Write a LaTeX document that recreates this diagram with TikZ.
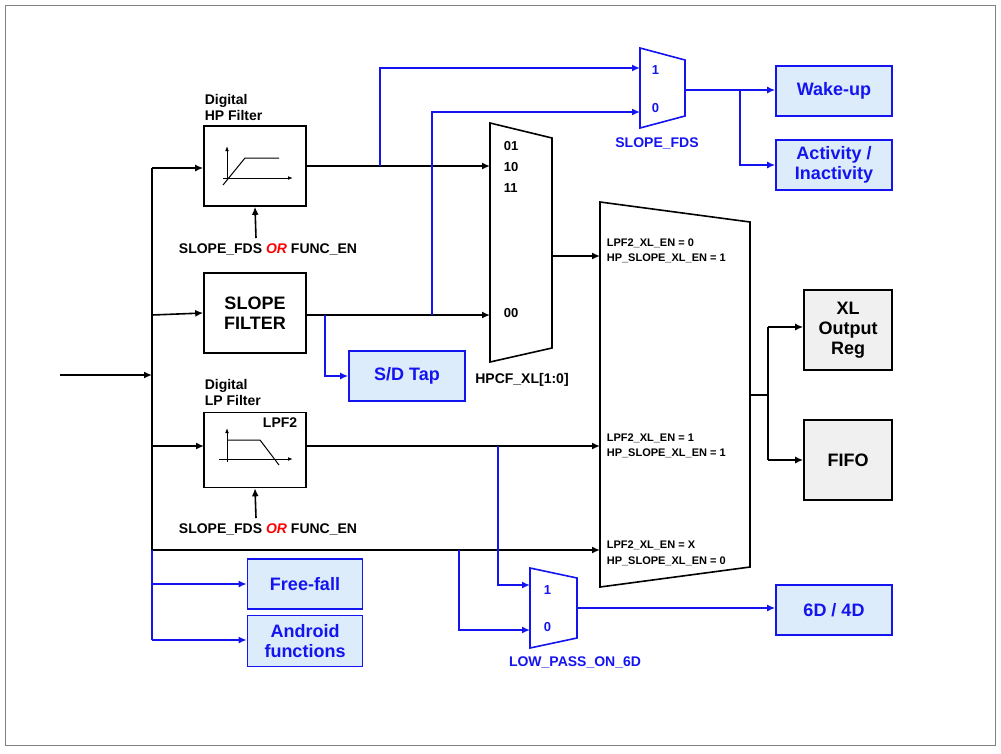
\documentclass[tikz,border=0pt]{standalone}
\usepackage{fontspec}
\setmainfont{Liberation Sans}
\usetikzlibrary{arrows.meta}
\definecolor{bl}{RGB}{20,20,240}
\definecolor{lb}{RGB}{220,236,250}
\definecolor{gr}{RGB}{240,240,240}
\begin{document}
\begin{tikzpicture}[x=1pt,y=-1pt,line width=1.6pt,
  ar/.style={-{Latex[length=8pt,width=7pt]}},
  blk/.style={draw,line width=1.6pt},
  bbox/.style={draw=bl,fill=lb,line width=1.6pt,text=bl,font=\bfseries\fontsize{18}{20}\selectfont,align=center,inner sep=0pt},
  gbox/.style={draw,fill=gr,line width=1.6pt,font=\bfseries\fontsize{18}{20}\selectfont,align=center,inner sep=0pt},
  lbl/.style={font=\bfseries\fontsize{14}{16}\selectfont,inner sep=0pt,align=left},
  sm/.style={font=\bfseries\fontsize{11}{12}\selectfont,inner sep=0pt,anchor=west},
  mx/.style={font=\bfseries\fontsize{13}{14}\selectfont,inner sep=0pt,anchor=west}]
\useasboundingbox (0,0) rectangle (1001,753);
\draw[line width=0.6pt,gray] (5,5) rectangle (995,745);
% HP filter
\node[blk,minimum width=102pt,minimum height=80pt] (hp) at (255,166) {};
\node[lbl,anchor=south west] (hpl) at (204,121) {Digital\\HP Filter};
\draw[line width=1pt,-{Latex[length=5pt]}] (227,180) -- (227,146);
\draw[line width=1pt,-{Latex[length=5pt]}] (223,178) -- (293,178);
\draw[line width=1pt] (223,185) -- (245,158) -- (279,158);
\node[lbl] (c1) at (268,249) {SLOPE\_FDS \textcolor{red}{\itshape OR} FUNC\_EN};
\draw[ar] (256,238) -- (hp.south);
% slope filter
\node[blk,minimum width=102pt,minimum height=80pt,font=\bfseries\fontsize{18}{20}\selectfont,align=center] (sf) at (255,313) {SLOPE\\FILTER};
% LP filter
\node[blk,minimum width=102pt,minimum height=75pt] (lp) at (255,450) {};
\node[lbl,anchor=south west] (lpl) at (204,406) {Digital\\LP Filter};
\node[lbl,anchor=north east] (lpf) at (298,417) {LPF2};
\draw[line width=1pt,-{Latex[length=5pt]}] (227,462) -- (227,428);
\draw[line width=1pt,-{Latex[length=5pt]}] (219,459) -- (293,459);
\draw[line width=1pt] (227,440) -- (260,440) -- (279,465);
\node[lbl] (c2) at (268,529) {SLOPE\_FDS \textcolor{red}{\itshape OR} FUNC\_EN};
\draw[ar] (256,518) -- (lp.south);
% input and bus
\coordinate (in) at (60,375);
\coordinate (b1) at (152,168);
\coordinate (b2) at (152,550);
\draw[ar] (in) -- (152,375);
\draw (b1) -- (b2);
\draw[ar] (b1) -- (hp.west|-b1);
\draw[ar] (152,315) -- (sf.west);
\draw[ar] (152,446) -- (204,446);
% HPCF mux
\draw[blk] (490,123) -- (552,138) -- (552,348) -- (490,362) -- cycle;
\coordinate (mh) at (521,242);
\node[mx] at (503,146) {01};
\node[mx] at (503,167) {10};
\node[mx] at (503,188) {11};
\node[mx] at (503,313) {00};
\node[lbl] (hpcf) at (522,380) {HPCF\_XL[1:0]};
\draw[ar] (306,166) -- (490,166);
\draw[ar] (306,315) -- (490,315);
% big block
\draw[blk] (600,202) -- (750,222) -- (750,567) -- (600,587) -- cycle;
\node[sm] at (606,243) {LPF2\_XL\_EN = 0};
\node[sm] at (606,258) {HP\_SLOPE\_XL\_EN = 1};
\node[sm] at (606,438) {LPF2\_XL\_EN = 1};
\node[sm] at (606,453) {HP\_SLOPE\_XL\_EN = 1};
\node[sm] at (606,545) {LPF2\_XL\_EN = X};
\node[sm] at (606,561) {HP\_SLOPE\_XL\_EN = 0};
\draw[ar] (552,256) -- (600,256);
\draw[ar] (306,446) -- (600,446);
\draw[ar] (b2) -- (600,550);
% outputs
\node[gbox,minimum width=88pt,minimum height=80pt] (xl) at (848,330) {XL\\Output\\Reg};
\node[gbox,minimum width=88pt,minimum height=80pt] (fifo) at (848,460) {FIFO};
\draw (750,395) -- (768,395);
\draw (768,327) -- (768,460);
\draw[ar] (768,327) -- (xl.west|-0,327);
\draw[ar] (768,460) -- (fifo.west);
% top mux
\draw[blk,draw=bl] (640,48) -- (685,60) -- (685,116) -- (640,128) -- cycle;
\node[mx,text=bl] at (651,70) {1};
\node[mx,text=bl] at (651,108) {0};
\node[lbl,text=bl] (sfds) at (657,143) {SLOPE\_FDS};
\begin{scope}[draw=bl,color=bl]
\draw[ar] (380,166) -- (380,68) -- (640,68);
\draw[ar] (432,315) -- (432,112) -- (640,112);
\end{scope}
\node[bbox,minimum width=116pt,minimum height=50pt] (wu) at (834,91) {Wake-up};
\node[bbox,minimum width=116pt,minimum height=50pt] (act) at (834,165) {Activity /\\Inactivity};
\draw[ar,bl] (685,90) -- (wu.west|-0,90);
\draw[ar,bl] (740,90) -- (740,165) -- (act.west);
% S/D tap
\node[bbox,minimum width=116pt,minimum height=50pt] (sd) at (407,376) {S/D Tap};
\draw[ar,bl] (325,315) -- (325,376) -- (sd.west);
% small mux
\draw[blk,draw=bl] (530,568) -- (577,578) -- (577,638) -- (530,648) -- cycle;
\node[mx,text=bl] at (543,590) {1};
\node[mx,text=bl] at (543,627) {0};
\node[lbl,text=bl] (lpo) at (575,662) {LOW\_PASS\_ON\_6D};
\draw[ar,bl] (498,446) -- (498,585) -- (530,585);
\draw[ar,bl] (459,550) -- (459,630) -- (530,630);
\node[bbox,minimum width=116pt,minimum height=50pt] (sixd) at (834,610) {6D / 4D};
\draw[ar,bl] (577,608) -- (sixd.west|-0,608);
% free-fall, android
\node[bbox,minimum width=115pt,minimum height=50pt] (ff) at (305,584) {Free-fall};
\node[bbox,minimum width=115pt,minimum height=51pt] (an) at (305,641) {Android\\functions};
\draw[bl] (152,550) -- (152,640);
\draw[ar,bl] (152,584) -- (ff.west);
\draw[ar,bl] (152,640) -- (an.west|-0,640);
\end{tikzpicture}
\end{document}
